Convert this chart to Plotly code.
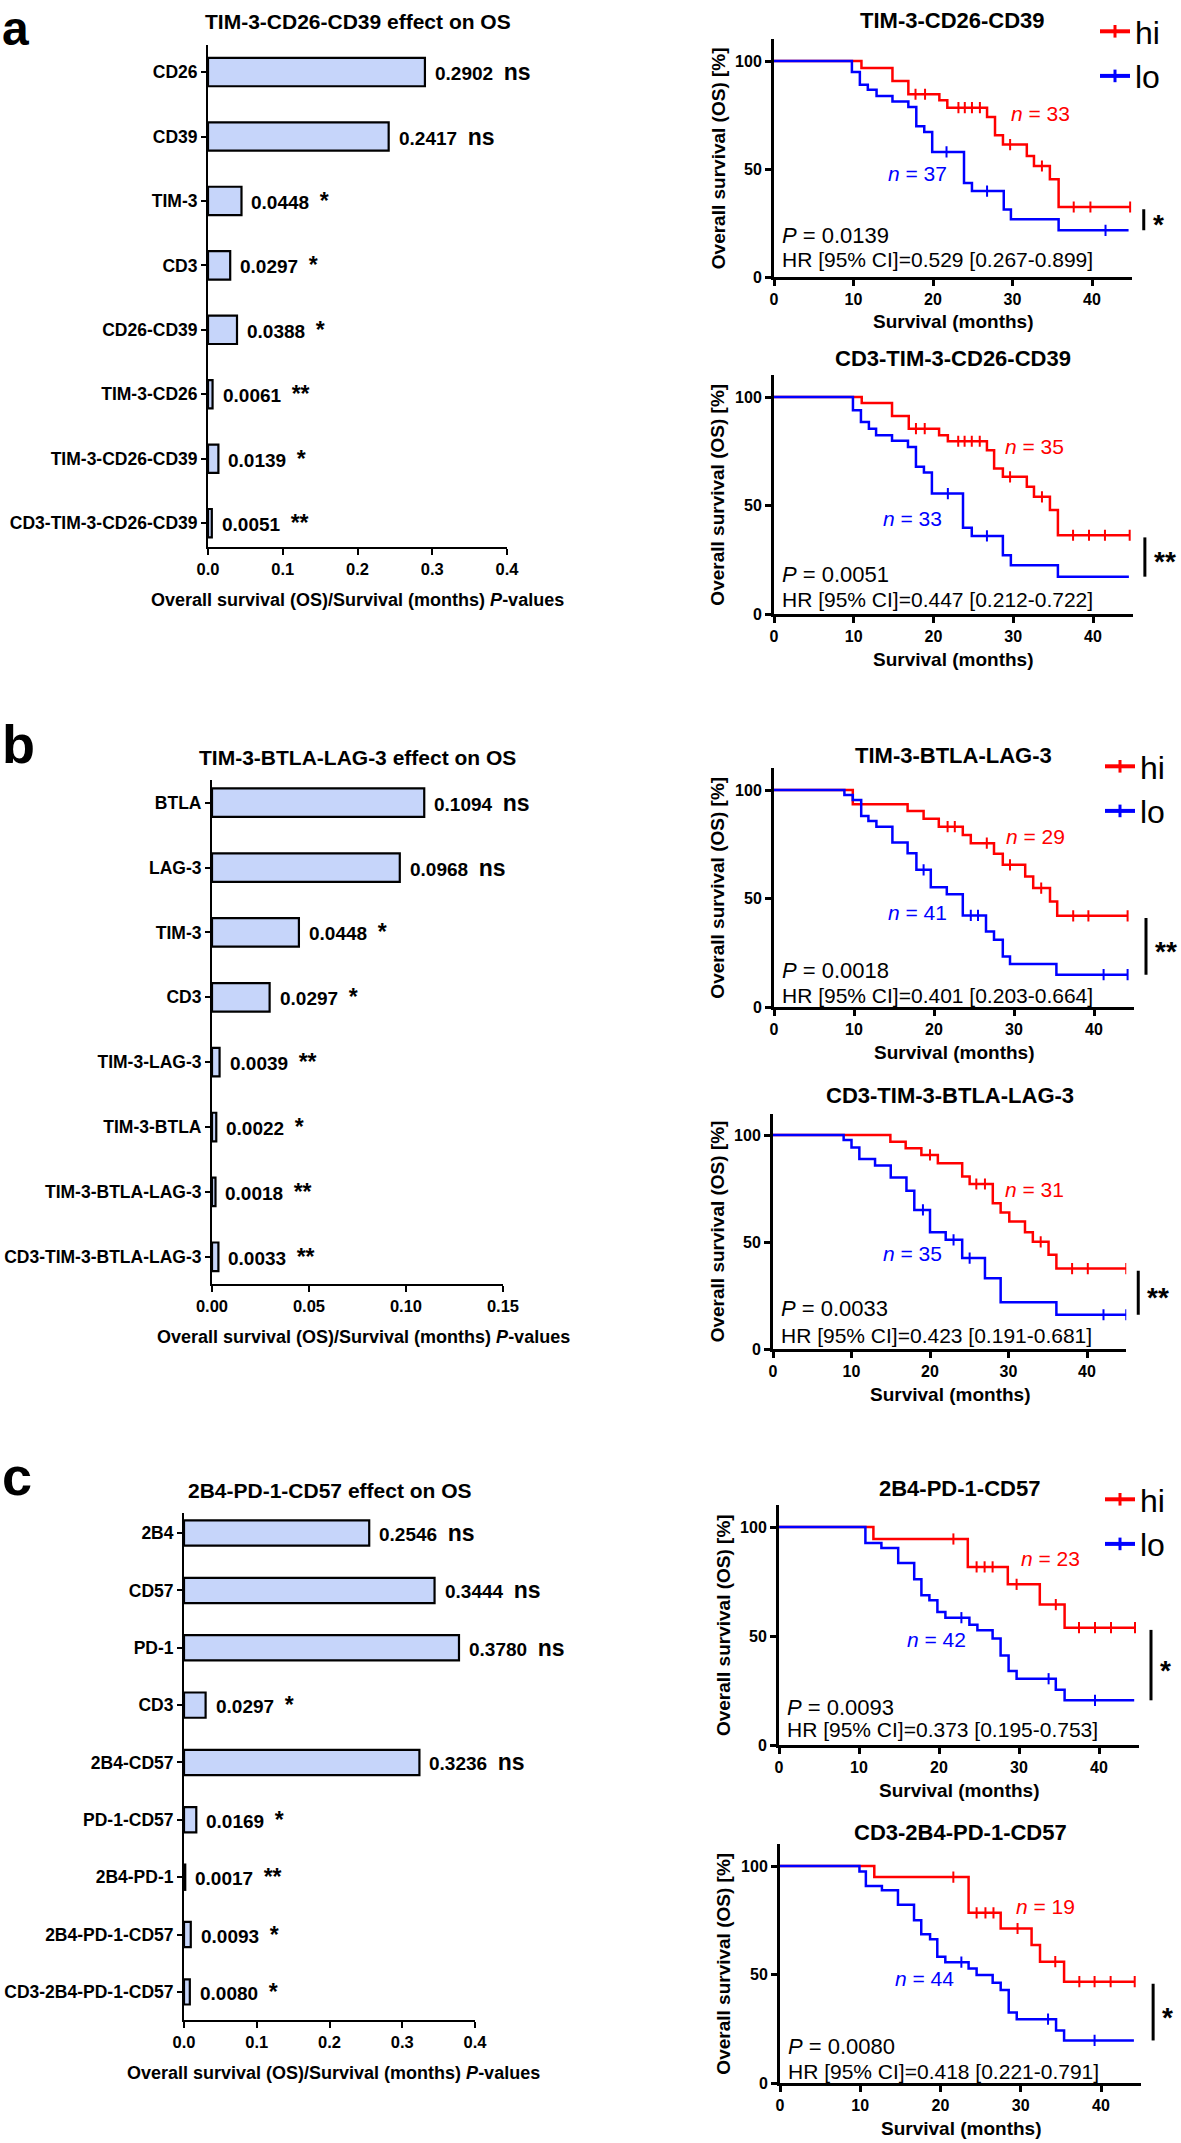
import plotly.graph_objects as go

W, H = 1181, 2143
FONT = "Liberation Sans, Arial, sans-serif"

# ---------------- bar chart data ----------------
bar_a_labels = ["CD26", "CD39", "TIM-3", "CD3", "CD26-CD39", "TIM-3-CD26", "TIM-3-CD26-CD39", "CD3-TIM-3-CD26-CD39"]
bar_a_p = [0.2902, 0.2417, 0.0448, 0.0297, 0.0388, 0.0061, 0.0139, 0.0051]
bar_a_sig = ["ns", "ns", "*", "*", "*", "**", "*", "**"]

bar_b_labels = ["BTLA", "LAG-3", "TIM-3", "CD3", "TIM-3-LAG-3", "TIM-3-BTLA", "TIM-3-BTLA-LAG-3", "CD3-TIM-3-BTLA-LAG-3"]
bar_b_p = [0.1094, 0.0968, 0.0448, 0.0297, 0.0039, 0.0022, 0.0018, 0.0033]
bar_b_sig = ["ns", "ns", "*", "*", "**", "*", "**", "**"]

bar_c_labels = ["2B4", "CD57", "PD-1", "CD3", "2B4-CD57", "PD-1-CD57", "2B4-PD-1", "2B4-PD-1-CD57", "CD3-2B4-PD-1-CD57"]
bar_c_p = [0.2546, 0.3444, 0.3780, 0.0297, 0.3236, 0.0169, 0.0017, 0.0093, 0.0080]
bar_c_sig = ["ns", "ns", "ns", "*", "ns", "*", "**", "*", "*"]

bar_a_ticks = [0.0, 0.1, 0.2, 0.3, 0.4]
bar_b_ticks = [0.00, 0.05, 0.10, 0.15]
bar_c_ticks = [0.0, 0.1, 0.2, 0.3, 0.4]

# ---------------- Kaplan-Meier data ----------------
km_titles = ["TIM-3-CD26-CD39", "CD3-TIM-3-CD26-CD39", "TIM-3-BTLA-LAG-3",
             "CD3-TIM-3-BTLA-LAG-3", "2B4-PD-1-CD57", "CD3-2B4-PD-1-CD57"]
km_p_text = ["0.0139", "0.0051", "0.0018", "0.0033", "0.0093", "0.0080"]
km_hr_text = ["0.529 [0.267-0.899]", "0.447 [0.212-0.722]", "0.401 [0.203-0.664]",
              "0.423 [0.191-0.681]", "0.373 [0.195-0.753]", "0.418 [0.221-0.791]"]
km_sig = ["*", "**", "**", "**", "*", "*"]
km_n_hi = [33, 35, 29, 31, 23, 19]
km_n_lo = [37, 33, 41, 35, 42, 44]

a1_hi_t = [0, 11.0, 14.9, 16.9, 20.8, 21.8, 26.8, 27.8, 28.8, 31.8, 32.7, 34.7, 35.8, 44.8]
a1_hi_s = [100, 96.8, 90.7, 84.6, 81.8, 78.4, 74.1, 65.6, 61.3, 56.0, 51.4, 45.2, 32.4, 32.4]
a1_hi_c = [17.8, 19.0, 23.2, 24.0, 24.9, 25.9, 29.7, 33.7, 37.7, 39.8, 44.8]
a1_lo_t = [0, 9.8, 10.8, 11.8, 12.9, 14.9, 16.9, 17.9, 18.9, 19.9, 23.9, 24.9, 28.9, 29.8, 35.8, 44.6]
a1_lo_s = [100, 94.9, 89.0, 86.7, 83.8, 81.3, 78.7, 69.8, 67.1, 57.9, 43.5, 39.8, 31.2, 26.7, 21.6, 21.6]
a1_lo_c = [21.7, 26.8, 41.7]

a2_hi_t = [0, 11.0, 14.8, 16.9, 20.7, 21.8, 26.7, 27.6, 28.7, 31.7, 32.6, 34.6, 35.6, 44.6]
a2_hi_s = [100, 97.2, 91.3, 85.4, 82.4, 79.6, 75.5, 67.0, 63.2, 58.6, 54.0, 47.9, 36.3, 36.3]
a2_hi_c = [17.8, 18.9, 23.1, 23.9, 24.8, 25.8, 29.6, 33.6, 37.5, 39.5, 41.5, 44.6]
a2_lo_t = [0, 9.9, 10.9, 11.9, 12.8, 14.8, 16.8, 17.8, 18.8, 19.8, 23.7, 24.8, 28.7, 29.7, 35.6, 44.5]
a2_lo_s = [100, 93.9, 88.5, 85.4, 82.4, 79.8, 77.0, 67.8, 65.2, 55.5, 39.7, 36.0, 27.1, 22.5, 17.2, 17.2]
a2_lo_c = [21.8, 26.7]

b1_hi_t = [0, 9.85, 16.7, 18.7, 20.6, 23.6, 24.6, 27.5, 28.6, 31.4, 32.4, 34.5, 35.4, 44.2]
b1_hi_s = [100, 93.4, 90.3, 86.7, 83.1, 79.3, 75.5, 70.6, 65.5, 60.1, 54.8, 48.6, 42.0, 42.0]
b1_hi_c = [21.7, 22.6, 26.6, 29.5, 33.4, 37.4, 39.3, 44.2]
b1_lo_t = [0, 8.8, 9.85, 10.9, 11.8, 12.8, 14.8, 16.7, 17.8, 19.6, 21.6, 23.6, 26.5, 27.5, 28.6, 29.5, 35.3, 44.2]
b1_lo_s = [100, 97.7, 95.4, 88.0, 85.7, 83.1, 75.8, 70.9, 63.2, 55.2, 52.0, 42.2, 34.8, 31.0, 23.3, 19.8, 14.9, 14.9]
b1_lo_c = [18.7, 24.6, 25.5, 41.2, 44.2]

b2_hi_t = [0, 14.95, 16.9, 18.9, 21.0, 24.1, 25.05, 28.0, 29.0, 30.1, 32.1, 33.1, 35.1, 36.1, 45.0]
b2_hi_s = [100, 96.9, 93.8, 90.7, 86.8, 80.6, 77.1, 68.1, 63.8, 59.6, 54.6, 50.1, 44.0, 37.6, 37.6]
b2_hi_c = [20.0, 25.9, 27.0, 34.1, 38.1, 40.1, 45.0]
b2_lo_t = [0, 9.0, 10.0, 11.0, 13.0, 15.0, 17.0, 18.0, 20.0, 22.0, 24.1, 27.0, 29.0, 36.1, 45.0]
b2_lo_s = [100, 97.7, 94.2, 88.8, 85.7, 80.1, 73.9, 65.0, 54.6, 51.0, 42.5, 33.1, 21.8, 16.0, 16.0]
b2_lo_c = [19.1, 23.0, 25.05, 42.1, 45.0]

c1_hi_t = [0, 11.8, 23.6, 28.6, 32.6, 35.7, 44.5]
c1_hi_s = [100, 94.5, 81.7, 73.7, 64.4, 53.8, 53.8]
c1_hi_c = [21.8, 24.7, 25.7, 26.7, 29.7, 34.6, 37.5, 39.5, 41.5, 44.5]
c1_lo_t = [0, 10.8, 12.8, 14.9, 16.9, 17.8, 18.8, 19.8, 20.8, 23.8, 24.8, 26.7, 27.7, 28.7, 29.7, 34.6, 35.7, 44.4]
c1_lo_s = [100, 92.7, 90.4, 83.5, 76.0, 68.7, 66.4, 61.0, 58.4, 55.2, 52.6, 48.8, 41.1, 33.9, 30.4, 25.4, 20.5, 20.5]
c1_lo_c = [22.8, 33.7, 39.5]

c2_hi_t = [0, 11.75, 23.5, 27.5, 31.35, 32.4, 35.4, 44.2]
c2_hi_s = [100, 94.9, 78.4, 71.2, 63.6, 55.9, 46.7, 46.7]
c2_hi_c = [21.6, 24.5, 25.6, 26.6, 29.6, 34.3, 37.3, 39.2, 41.2, 44.2]
c2_lo_t = [0, 9.9, 10.7, 12.7, 14.7, 16.7, 17.6, 18.7, 19.6, 20.6, 23.5, 24.5, 26.5, 27.5, 28.5, 29.5, 34.4, 35.4, 44.1]
c2_lo_s = [100, 97.5, 90.8, 88.8, 82.2, 75.0, 68.5, 66.2, 58.2, 55.7, 52.8, 49.8, 46.2, 42.9, 32.5, 29.4, 24.2, 19.6, 19.6]
c2_lo_c = [22.6, 33.4, 39.2]

km_hi = [(a1_hi_t, a1_hi_s, a1_hi_c), (a2_hi_t, a2_hi_s, a2_hi_c), (b1_hi_t, b1_hi_s, b1_hi_c),
         (b2_hi_t, b2_hi_s, b2_hi_c), (c1_hi_t, c1_hi_s, c1_hi_c), (c2_hi_t, c2_hi_s, c2_hi_c)]
km_lo = [(a1_lo_t, a1_lo_s, a1_lo_c), (a2_lo_t, a2_lo_s, a2_lo_c), (b1_lo_t, b1_lo_s, b1_lo_c),
         (b2_lo_t, b2_lo_s, b2_lo_c), (c1_lo_t, c1_lo_s, c1_lo_c), (c2_lo_t, c2_lo_s, c2_lo_c)]
km_xticks = [0, 10, 20, 30, 40]
km_yticks = [0, 50, 100]

RED = "#ff0000"
BLUE = "#0000ff"
BARFILL = "#c6d5fa"


def px_x(p):
    return p / W


def px_y(p):
    return 1 - p / H


def surv_at(ts, ss, t):
    v = ss[0]
    for ti, si in zip(ts, ss):
        if ti <= t:
            v = si
    return v


fig = go.Figure()
layout = dict(width=W, height=H, margin=dict(l=0, r=0, t=0, b=0, pad=0, autoexpand=False),
              paper_bgcolor="white", plot_bgcolor="white", showlegend=True,
              font=dict(family=FONT, color="black"))
annotations = []
shapes = []

# ---------------- bar panels ----------------
bar_panels = [
    (bar_a_labels, bar_a_p, bar_a_sig, bar_a_ticks, ".1f", 0.4, (208, 507), (45, 547), 0.42, 0.37,
     "TIM-3-CD26-CD39 effect on OS", 358, 357),
    (bar_b_labels, bar_b_p, bar_b_sig, bar_b_ticks, ".2f", 0.15, (212, 503), (780, 1284), 0.35, 0.42,
     "TIM-3-BTLA-LAG-3 effect on OS", 358, 363),
    (bar_c_labels, bar_c_p, bar_c_sig, bar_c_ticks, ".1f", 0.4, (184, 475), (1513, 2020), 0.35, 0.49,
     "2B4-PD-1-CD57 effect on OS", 330, 333),
]
for i, (labs, pv, sig, ticks, fmt, xmax, xd, yd, padt, padb, title, tcx, lcx) in enumerate(bar_panels):
    n = i + 1
    xa = "x" if n == 1 else f"x{n}"
    ya = "y" if n == 1 else f"y{n}"
    fig.add_trace(go.Bar(x=pv, y=labs, orientation="h", width=0.44, xaxis=xa, yaxis=ya,
                         marker=dict(color=BARFILL, line=dict(color="black", width=2.2)),
                         showlegend=False, hoverinfo="skip"))
    layout[f"xaxis{'' if n == 1 else n}"] = dict(
        domain=[px_x(xd[0]), px_x(xd[1])], range=[0, xmax], anchor=ya, automargin=False,
        tickvals=ticks, tickformat=fmt, showline=True, linecolor="black", linewidth=2,
        ticks="outside", ticklen=6, tickwidth=2, tickcolor="black", showgrid=False, zeroline=False,
        tickfont=dict(family=FONT, size=16.5, color="black", weight="bold"))
    layout[f"yaxis{'' if n == 1 else n}"] = dict(
        domain=[px_y(yd[1]), px_y(yd[0])], type="category", categoryorder="array", categoryarray=labs,
        range=[len(labs) - 1 + padb, -padt], anchor=xa, automargin=False,
        showline=True, linecolor="black", linewidth=2, ticks="outside", ticklen=5, tickwidth=1.5,
        tickcolor="black", showgrid=False, zeroline=False,
        tickfont=dict(family=FONT, size=17.5, color="black", weight="bold"))
    for lab, v, s in zip(labs, pv, sig):
        annotations.append(dict(
            x=v, y=lab, xref=xa, yref=ya, xanchor="left", yanchor="middle", xshift=8, showarrow=False,
            text=f"<b>{v:.4f}\u00a0\u00a0<span style='font-size:23px'>{s}</span></b>",
            font=dict(family=FONT, size=19, color="black")))
    annotations.append(dict(x=px_x(tcx), y=px_y(yd[0] - 23), xref="paper", yref="paper",
                            xanchor="center", yanchor="middle", showarrow=False,
                            text=f"<b>{title}</b>", font=dict(family=FONT, size=21, color="black")))
    annotations.append(dict(x=px_x(lcx), y=px_y(yd[1] + 53), xref="paper", yref="paper",
                            xanchor="center", yanchor="middle", showarrow=False,
                            text="<b>Overall survival (OS)/Survival (months) <i>P</i>-values</b>",
                            font=dict(family=FONT, size=18, color="black")))

# panel letters
annotations.append(dict(x=0, y=1, xref="paper", yref="paper", xanchor="left", yanchor="top",
                        showarrow=False, text="<b>a</b>", font=dict(family=FONT, size=48, color="black")))
for letter, yc in [("b", 744), ("c", 1476)]:
    annotations.append(dict(x=0, y=px_y(yc), xref="paper", yref="paper", xanchor="left", yanchor="middle",
                            showarrow=False, text=f"<b>{letter}</b>",
                            font=dict(family=FONT, size=54, color="black")))

# ---------------- KM panels ----------------
km_geo = [
    (774, 7.95, 277, 2.16, 19.4, 7.9, (33.5, 75.9), (18.1, 48.1), 21),
    (774, 7.975, 614, 2.17, 18.0, 6.9, (32.7, 77.0), (17.4, 44.0), 358),
    (774, 8.0, 1007, 2.17, 16.6, 5.5, (32.7, 78.5), (17.9, 43.6), 755),
    (773, 7.85, 1349, 2.14, 18.7, 6.5, (33.3, 74.7), (17.8, 44.6), 1095),
    (779, 8.0, 1745, 2.18, 17.4, 6.9, (33.9, 85.5), (19.7, 48.3), 1488),
    (780, 8.025, 2083, 2.17, 17.0, 5.1, (33.1, 81.2), (18.0, 48.2), 1832),
]
legend_names = ["legend", None, "legend2", None, "legend3", None]
XMAX, YMAX = 45, 110

for k in range(6):
    n = k + 4
    xa, ya = f"x{n}", f"y{n}"
    x0, sx, y0, sy, py, hry, nhi, nlo, ty = km_geo[k]
    xr = x0 + XMAX * sx
    yt = y0 - YMAX * sy
    for (t, s, c), col in [(km_hi[k], RED), (km_lo[k], BLUE)]:
        fig.add_trace(go.Scatter(x=t, y=s, mode="lines", line=dict(color=col, width=2.5, shape="hv"),
                                 xaxis=xa, yaxis=ya, showlegend=False, hoverinfo="skip"))
        fig.add_trace(go.Scatter(x=c, y=[surv_at(t, s, ci) for ci in c], mode="markers",
                                 marker=dict(symbol="line-ns-open", size=8, color=col,
                                             line=dict(color=col, width=2)),
                                 xaxis=xa, yaxis=ya, showlegend=False, hoverinfo="skip"))
    if legend_names[k]:
        for name, col in [("hi", RED), ("lo", BLUE)]:
            fig.add_trace(go.Scatter(x=[None], y=[None], mode="lines+markers", name=name,
                                     line=dict(color=col, width=4),
                                     marker=dict(symbol="line-ns-open", size=9, color=col,
                                                 line=dict(color=col, width=3)),
                                     xaxis=xa, yaxis=ya, legend=legend_names[k], showlegend=True))
    layout[f"xaxis{n}"] = dict(
        domain=[px_x(x0), px_x(xr)], range=[0, XMAX], anchor=ya, tickvals=km_xticks, automargin=False,
        showline=True, linecolor="black", linewidth=3, ticks="outside", ticklen=6, tickwidth=2.5,
        tickcolor="black", showgrid=False, zeroline=False,
        tickfont=dict(family=FONT, size=16, color="black", weight="bold"))
    layout[f"yaxis{n}"] = dict(
        domain=[px_y(y0), px_y(yt)], range=[0, YMAX], anchor=xa, tickvals=km_yticks, automargin=False,
        showline=True, linecolor="black", linewidth=3, ticks="outside", ticklen=6, tickwidth=2.5,
        tickcolor="black", showgrid=False, zeroline=False,
        tickfont=dict(family=FONT, size=16, color="black", weight="bold"))
    annotations.append(dict(x=px_x((x0 + xr) / 2), y=px_y(ty), xref="paper", yref="paper",
                            xanchor="center", yanchor="middle", showarrow=False,
                            text=f"<b>{km_titles[k]}</b>", font=dict(family=FONT, size=22, color="black")))
    annotations.append(dict(x=px_x((x0 + xr) / 2), y=px_y(y0 + 45), xref="paper", yref="paper",
                            xanchor="center", yanchor="middle", showarrow=False,
                            text="<b>Survival (months)</b>", font=dict(family=FONT, size=19, color="black")))
    annotations.append(dict(x=px_x(x0 - 56), y=px_y((y0 + yt) / 2), xref="paper", yref="paper",
                            xanchor="center", yanchor="middle", showarrow=False, textangle=-90,
                            text="<b>Overall survival (OS) [%]</b>",
                            font=dict(family=FONT, size=19, color="black")))
    annotations.append(dict(x=0.75, y=py, xref=xa, yref=ya, xanchor="left", yanchor="middle",
                            showarrow=False, text=f"<i>P</i> = {km_p_text[k]}",
                            font=dict(family=FONT, size=22, color="black")))
    annotations.append(dict(x=0.75, y=hry, xref=xa, yref=ya, xanchor="left", yanchor="middle",
                            showarrow=False, text=f"HR [95% CI]={km_hr_text[k]}",
                            font=dict(family=FONT, size=21, color="black")))
    annotations.append(dict(x=nhi[0], y=nhi[1], xref=xa, yref=ya, xanchor="center", yanchor="middle",
                            showarrow=False, text=f"<i>n</i> = {km_n_hi[k]}",
                            font=dict(family=FONT, size=21, color=RED)))
    annotations.append(dict(x=nlo[0], y=nlo[1], xref=xa, yref=ya, xanchor="center", yanchor="middle",
                            showarrow=False, text=f"<i>n</i> = {km_n_lo[k]}",
                            font=dict(family=FONT, size=21, color=BLUE)))
    hi_end = km_hi[k][1][-1]
    lo_end = km_lo[k][1][-1]
    bx = xr + 12
    shapes.append(dict(type="line", xref="paper", yref=ya, x0=px_x(bx), x1=px_x(bx),
                       y0=lo_end, y1=hi_end - 1, line=dict(color="black", width=3)))
    annotations.append(dict(x=px_x(bx + 7), y=(lo_end + hi_end) / 2, xref="paper", yref=ya,
                            xanchor="left", yanchor="middle", yshift=-6, showarrow=False,
                            text=f"<b>{km_sig[k]}</b>", font=dict(family=FONT, size=28, color="black")))

leg_common = dict(xanchor="left", yanchor="top", bgcolor="rgba(0,0,0,0)", borderwidth=0,
                  font=dict(family=FONT, size=32, color="black"), itemwidth=30, tracegroupgap=0)
layout["legend"] = dict(x=px_x(1095), y=px_y(4), **leg_common)
layout["legend2"] = dict(x=px_x(1100), y=px_y(739), **leg_common)
layout["legend3"] = dict(x=px_x(1100), y=px_y(1472), **leg_common)

layout["annotations"] = annotations
layout["shapes"] = shapes
fig.update_layout(**layout)
fig.write_html("out.html", config={"displayModeBar": False},
               post_script="document.body.style.margin='0';document.body.style.overflow='hidden';")
